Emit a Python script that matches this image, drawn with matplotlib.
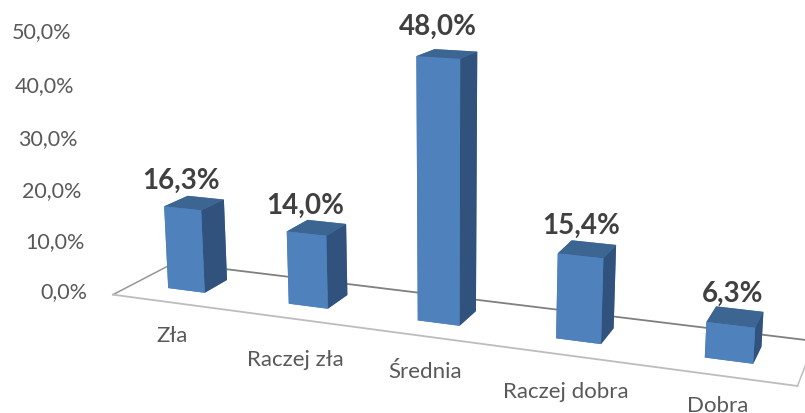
import matplotlib
matplotlib.use("Agg")
from matplotlib import pyplot as plt
import numpy as np

plt.rcParams['font.family'] = ['Lato', 'DejaVu Sans']

categories = ['Zła', 'Raczej zła', 'Średnia', 'Raczej dobra', 'Dobra']
values = [16.3, 14.0, 48.0, 15.4, 6.3]
axis_ticks = [0, 10, 20, 30, 40, 50]

def pct(v):
    return f"{v:.1f}%".replace('.', ',')

W, H = 805, 414
x0, x1 = 0.05, 4.97
fig = plt.figure(figsize=(W / 100, H / 100), dpi=100)
# the 3d axes are always square, so make them as wide as the figure
ax = fig.add_axes([34 / W, ((H - W) / 2 + 12) / H, 1, W / H], projection='3d')
ax.set_proj_type('persp', focal_length=0.33)
ax.view_init(elev=14.0, azim=-69.0, roll=0)
ax.set_box_aspect((705, 121, 276), zoom=0.945)
ax.set_xlim(x0, x1, view_margin=0)
ax.set_ylim(0, 1, view_margin=0)
ax.set_zlim(0, 50, view_margin=0)
ax.set_axis_off()

xpos = np.arange(len(values)) + 0.5
bar_w = 0.31
# faces: bottom, top, front, back, left, right
face_colors = ['#4F81BD', '#3C6592', '#4F81BD', '#4F81BD', '#4F81BD', '#30527C'] * len(values)
ax.bar3d(xpos - bar_w / 2, 0.33, 0, bar_w, 0.39, values, color=face_colors, shade=False)

# floor
ax.plot([x0, x1], [1, 1], [0, 0], color='#808080', lw=1.3)
ax.plot([x0, x0], [0, 1], [0, 0], color='#969696', lw=1.1)
ax.plot([x0, x1], [0, 0], [0, 0], color='#BDBDBD', lw=1.3)
ax.plot([x1, x1], [0, 1], [0, 0], color='#BDBDBD', lw=1.1)

for t in axis_ticks:
    ax.text(-0.17, 0, t, pct(t), ha='right', va='center', fontsize=15.5, color='#595959')
# the labels are staggered a little in the original
for x, name, drop in zip(xpos, categories, [7.6, 9, 7.6, 7.6, 6.3]):
    ax.text(x - 0.03, 0.13, -drop, name, ha='center', va='center', fontsize=16, color='#595959')
for x, v in zip(xpos, values):
    ax.text(x, 0.33, v + 5.5, pct(v), ha='center', va='center', fontsize=20,
            fontweight='bold', color='#404040')

fig.savefig('out.png', dpi=100)
